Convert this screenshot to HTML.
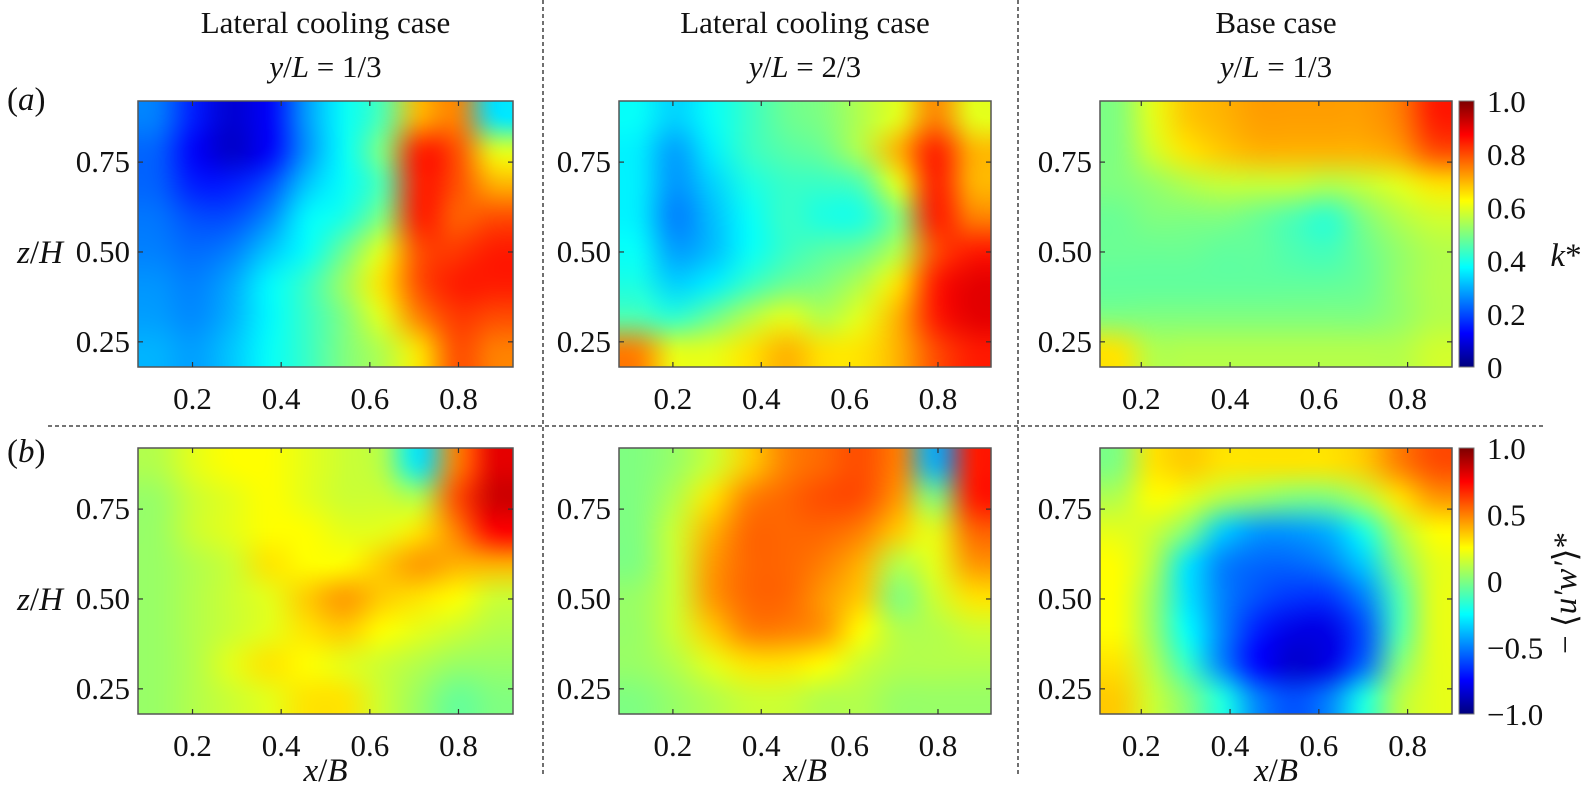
<!DOCTYPE html>
<html><head><meta charset="utf-8">
<style>
body{margin:0;background:#fff;width:1591px;height:804px;overflow:hidden;position:relative;font-family:"Liberation Serif",serif;}
canvas{position:absolute;}
svg{position:absolute;left:0;top:0;}
</style></head>
<body>
<div id="root"></div>
<svg id="ov" width="1591" height="804"></svg>
<script>
// ---- data ----
const xTickVals = [0.2, 0.4, 0.6, 0.8];
const xTickLabels = ["0.2", "0.4", "0.6", "0.8"];
const zTickVals = [0.25, 0.5, 0.75];
const zTickLabels = ["0.25", "0.50", "0.75"];
const kTickVals = [0, 0.2, 0.4, 0.6, 0.8, 1.0];
const kTickLabels = ["0", "0.2", "0.4", "0.6", "0.8", "1.0"];
const uwTickVals = [-1, -0.5, 0, 0.5, 1];
const uwTickLabels = ["\u22121.0", "\u22120.5", "0", "0.5", "1.0"];
const titles1 = ["Lateral cooling case", "Lateral cooling case", "Base case"];
const titles2 = ["1/3", "2/3", "1/3"];
// rows: top (z high) to bottom, cols: x low to high
const gridA1 = [
[0.25,0.15,0.08,0.12,0.28,0.38,0.45,0.70,0.75,0.35],
[0.22,0.12,0.07,0.12,0.27,0.38,0.50,0.85,0.80,0.60],
[0.22,0.15,0.15,0.20,0.32,0.38,0.45,0.85,0.80,0.70],
[0.24,0.20,0.20,0.26,0.37,0.40,0.50,0.85,0.78,0.80],
[0.25,0.23,0.25,0.32,0.38,0.48,0.60,0.80,0.82,0.85],
[0.27,0.25,0.29,0.37,0.43,0.53,0.65,0.80,0.85,0.85],
[0.28,0.26,0.30,0.37,0.43,0.50,0.60,0.75,0.82,0.80],
[0.30,0.28,0.32,0.38,0.43,0.50,0.55,0.65,0.80,0.75]];
const gridA2 = [
[0.38,0.33,0.38,0.43,0.48,0.50,0.55,0.60,0.75,0.60],
[0.36,0.28,0.36,0.43,0.46,0.48,0.55,0.70,0.85,0.70],
[0.36,0.27,0.33,0.40,0.43,0.43,0.45,0.60,0.85,0.70],
[0.36,0.25,0.31,0.38,0.43,0.40,0.40,0.50,0.85,0.75],
[0.38,0.28,0.31,0.38,0.43,0.46,0.48,0.55,0.80,0.85],
[0.40,0.33,0.36,0.43,0.48,0.50,0.55,0.65,0.85,0.90],
[0.45,0.42,0.48,0.55,0.60,0.55,0.60,0.70,0.85,0.90],
[0.75,0.60,0.60,0.65,0.70,0.65,0.65,0.70,0.80,0.85]];
const gridA3 = [
[0.50,0.60,0.68,0.70,0.72,0.72,0.72,0.72,0.75,0.85],
[0.50,0.58,0.65,0.68,0.70,0.70,0.70,0.70,0.72,0.80],
[0.50,0.52,0.55,0.57,0.57,0.57,0.55,0.57,0.60,0.65],
[0.48,0.50,0.50,0.50,0.48,0.45,0.42,0.50,0.55,0.58],
[0.48,0.48,0.48,0.47,0.47,0.45,0.44,0.48,0.52,0.55],
[0.47,0.47,0.47,0.47,0.47,0.47,0.47,0.48,0.52,0.55],
[0.50,0.50,0.50,0.50,0.50,0.50,0.50,0.50,0.52,0.55],
[0.65,0.55,0.55,0.55,0.55,0.55,0.55,0.55,0.55,0.58]];
const gridB1 = [
[0.10,0.20,0.25,0.25,0.20,0.15,0.10,-0.30,0.50,0.80],
[0.05,0.15,0.20,0.25,0.20,0.15,0.15,0.10,0.60,0.85],
[0.05,0.15,0.20,0.25,0.25,0.20,0.20,0.30,0.50,0.75],
[0.05,0.10,0.15,0.30,0.25,0.25,0.35,0.45,0.40,0.40],
[0.05,0.10,0.15,0.20,0.35,0.45,0.35,0.30,0.25,0.15],
[0.05,0.10,0.15,0.20,0.30,0.35,0.25,0.20,0.15,0.10],
[0.05,0.10,0.20,0.30,0.25,0.20,0.15,0.10,0.05,0.05],
[0.05,0.10,0.15,0.20,0.30,0.30,0.15,0.05,-0.05,0.00]];
const gridB2 = [
[0.00,0.05,0.15,0.35,0.50,0.55,0.60,0.50,-0.40,0.70],
[0.00,0.10,0.30,0.50,0.55,0.60,0.60,0.45,0.00,0.70],
[0.00,0.15,0.40,0.55,0.55,0.55,0.50,0.35,0.20,0.55],
[0.00,0.15,0.45,0.55,0.55,0.50,0.40,0.10,0.20,0.45],
[0.05,0.15,0.45,0.55,0.55,0.45,0.35,0.00,0.15,0.30],
[0.05,0.15,0.35,0.50,0.50,0.45,0.25,0.10,0.10,0.15],
[0.05,0.10,0.20,0.30,0.30,0.25,0.15,0.10,0.10,0.10],
[0.00,0.05,0.10,0.15,0.15,0.10,0.10,0.05,0.05,0.05]];
const gridB3 = [
[0.00,0.30,0.35,0.30,0.30,0.30,0.30,0.35,0.50,0.60],
[0.10,0.25,0.20,0.10,0.05,0.00,0.00,0.10,0.30,0.45],
[0.20,0.15,0.00,-0.35,-0.45,-0.45,-0.40,-0.20,0.10,0.25],
[0.25,0.10,-0.30,-0.50,-0.55,-0.55,-0.50,-0.35,0.00,0.20],
[0.25,0.05,-0.30,-0.50,-0.60,-0.65,-0.65,-0.50,-0.10,0.20],
[0.25,0.05,-0.25,-0.50,-0.70,-0.80,-0.80,-0.60,-0.10,0.20],
[0.30,0.10,-0.15,-0.50,-0.75,-0.85,-0.80,-0.55,0.00,0.20],
[0.35,0.15,0.00,-0.20,-0.50,-0.60,-0.50,-0.20,0.10,0.20]];

// ---- layout ----
const cols = [
 {x0:138, x1:513, d0:0.077, d1:0.923},
 {x0:619, x1:991, d0:0.078, d1:0.920},
 {x0:1100,x1:1452,d0:0.107, d1:0.900}];
const rows = [{y0:101,y1:367},{y0:448,y1:714}];
const zD0 = 0.18, zD1 = 0.92;
const grids = [[gridA1,gridA2,gridA3],[gridB1,gridB2,gridB3]];
const root = document.getElementById('root');
const ov = document.getElementById('ov');
const NS = 'http://www.w3.org/2000/svg';

function jet(v){
  const c = t => Math.max(0, Math.min(1, t));
  return [c(1.5-Math.abs(4*v-3)), c(1.5-Math.abs(4*v-2)), c(1.5-Math.abs(4*v-1))].map(t=>Math.round(t*255));
}
function sx(c, v){ return c.x0 + (v - c.d0)/(c.d1 - c.d0)*(c.x1 - c.x0); }
function sz(r, v){ return r.y1 - (v - zD0)/(zD1 - zD0)*(r.y1 - r.y0); }

function el(tag, attrs, parent){
  const e = document.createElementNS(NS, tag);
  for (const k in attrs) e.setAttribute(k, attrs[k]);
  (parent||ov).appendChild(e);
  return e;
}
function txt(x,y,s,size,anchor,extra){
  const t = el('text',Object.assign({x:x,y:y,'font-size':size,'text-anchor':anchor||'middle','font-family':'Liberation Serif, serif',fill:'#111'},extra||{}));
  t.innerHTML = s;
  return t;
}

for (let ri=0; ri<2; ri++){
  const r = rows[ri];
  for (let ci=0; ci<3; ci++){
    const c = cols[ci];
    const g = grids[ri][ci];
    const nr = g.length, nc = g[0].length;
    const small = document.createElement('canvas');
    small.width = nc; small.height = nr;
    const sctx = small.getContext('2d');
    const img = sctx.createImageData(nc, nr);
    for (let i=0;i<nr;i++) for (let j=0;j<nc;j++){
      let v = g[i][j];
      if (ri===1) v = (v+1)/2;
      const col = jet(v);
      const k = (i*nc+j)*4;
      img.data[k]=col[0]; img.data[k+1]=col[1]; img.data[k+2]=col[2]; img.data[k+3]=255;
    }
    sctx.putImageData(img,0,0);
    const cv = document.createElement('canvas');
    const w = c.x1-c.x0, h = r.y1-r.y0;
    cv.width = w; cv.height = h;
    cv.style.left = c.x0+'px'; cv.style.top = r.y0+'px';
    
    
    const ctx = cv.getContext('2d');
    ctx.imageSmoothingEnabled = true; ctx.imageSmoothingQuality = 'high';
    ctx.drawImage(small, 0, 0, nc, nr, 0, 0, w, h);
    root.appendChild(cv);

    const fr = el('rect',{x:c.x0,y:r.y0,width:w,height:h,fill:'none',stroke:'#555','stroke-width':1.5});
    
    
    xTickVals.forEach((v,i)=>{
      const X = sx(c,v);
      el('line',{x1:X,x2:X,y1:r.y1,y2:r.y1-5,stroke:'#333','stroke-width':1.2});
      el('line',{x1:X,x2:X,y1:r.y0,y2:r.y0+5,stroke:'#333','stroke-width':1.2});
      const t = txt(X, r.y1+42, xTickLabels[i], 31);
      
      
    });
    zTickVals.forEach((v,i)=>{
      const Y = sz(r,v);
      el('line',{x1:c.x0,x2:c.x0+5,y1:Y,y2:Y,stroke:'#333','stroke-width':1.2});
      el('line',{x1:c.x1,x2:c.x1-5,y1:Y,y2:Y,stroke:'#333','stroke-width':1.2});
      const t = txt(c.x0-8, Y+10, zTickLabels[i], 31, 'end');
      
      
    });
    if (ri===1){
      const t = txt((c.x0+c.x1)/2, 781, '<tspan font-style="italic">x</tspan>/<tspan font-style="italic">B</tspan>', 33);
      
      
    }
    if (ci===0){
      const t = txt(40, sz(r,0.5)+11, '<tspan font-style="italic">z</tspan>/<tspan font-style="italic">H</tspan>', 33);
      
      
    }
    if (ri===0){
      const cx = (c.x0+c.x1)/2;
      const t1 = txt(cx, 33, titles1[ci], 31);
      
      
      const t2 = txt(cx, 77, '<tspan font-style="italic">y</tspan>/<tspan font-style="italic">L</tspan> = '+titles2[ci], 31);
      
      
    }
  }
  const cb = document.createElement('canvas');
  const cbx = 1459, cbw = 15, cbh = r.y1-r.y0;
  cb.width = cbw; cb.height = cbh;
  cb.style.left = cbx+'px'; cb.style.top = r.y0+'px';
  
  
  const cctx = cb.getContext('2d');
  for (let y=0;y<cbh;y++){
    const col = jet(1 - y/(cbh-1));
    cctx.fillStyle = 'rgb('+col.join(',')+')';
    cctx.fillRect(0,y,cbw,1);
  }
  root.appendChild(cb);
  el('rect',{x:cbx,y:r.y0,width:cbw,height:cbh,fill:'none',stroke:'#777','stroke-width':1});
  const tv = ri? uwTickVals : kTickVals, tl = ri? uwTickLabels : kTickLabels;
  const lo = ri? -1:0, hi = 1;
  tv.forEach((v,i)=>{
    const Y = r.y1 - (v-lo)/(hi-lo)*cbh;
    const t = txt(1487, Y+11, tl[i], 31, 'start');
    
    
  });
}
const kt = txt(1566, 266, '<tspan font-style="italic">k</tspan>*', 33);


const ut = txt(0, 0, '\u2212 \u27E8<tspan font-style="italic">u\u2032w\u2032</tspan>\u27E9*', 33, 'middle', {transform:'translate(1576,593) rotate(-90)'});


const pa = txt(7, 110, '(<tspan font-style="italic">a</tspan>)', 33, 'start');


const pb = txt(7, 462, '(<tspan font-style="italic">b</tspan>)', 33, 'start');


const d1 = el('line',{x1:48,x2:1544,y1:426,y2:426,stroke:'#222','stroke-width':1.3,'stroke-dasharray':'4,3'});


[543,1018].forEach(X=>{
  const d = el('line',{x1:X,x2:X,y1:0,y2:775,stroke:'#222','stroke-width':1.3,'stroke-dasharray':'4,3'});
  
  
});
</script>
</body></html>
